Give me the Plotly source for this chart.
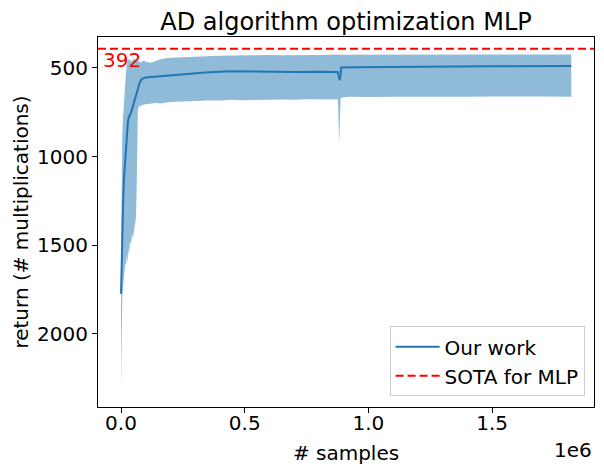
import plotly.graph_objects as go

# mean return over samples (x in millions of samples)
mean_x = [0.000, 0.001, 0.002, 0.004, 0.006, 0.009, 0.012, 0.016, 0.020, 0.024,
          0.028, 0.032, 0.038, 0.044, 0.050, 0.056, 0.062, 0.068, 0.074, 0.082,
          0.095, 0.110, 0.140, 0.180, 0.224, 0.280, 0.340, 0.440, 0.520, 0.600,
          0.700, 0.800, 0.860, 0.876, 0.880, 0.884, 0.887, 0.890, 0.950, 1.050,
          1.200, 1.350, 1.500, 1.650, 1.820]
mean_y = [1775, 1700, 1600, 1450, 1330, 1230, 1120, 1030, 930, 860,
          800, 775, 760, 735, 705, 680, 640, 610, 590, 565,
          555, 552, 548, 543, 538, 531, 525, 519, 521, 520,
          522, 521, 521, 523, 548, 568, 550, 497, 496, 494,
          492, 491, 490, 489, 489]

# spread band around the mean
band_x = [0.000, 0.001, 0.002, 0.003, 0.005, 0.008, 0.011, 0.014, 0.017, 0.020,
          0.023, 0.026, 0.029, 0.032, 0.036, 0.040, 0.044, 0.048, 0.052, 0.056,
          0.060, 0.063, 0.065, 0.068, 0.072, 0.080, 0.090, 0.100, 0.120, 0.140,
          0.160, 0.180, 0.200, 0.250, 0.300, 0.350, 0.400, 0.450, 0.500, 0.550,
          0.600, 0.650, 0.700, 0.750, 0.800, 0.850, 0.877, 0.879, 0.882, 0.885,
          0.888, 0.920, 1.000, 1.100, 1.200, 1.300, 1.400, 1.500, 1.600, 1.700,
          1.820]
band_top = [1560, 1300, 1150, 1000, 880, 780, 700, 640, 580, 530,
            480, 455, 448, 460, 445, 470, 450, 460, 440, 455,
            450, 462, 458, 455, 462, 470, 458, 465, 470, 460,
            450, 445, 442, 440, 436, 433, 431, 430, 428, 430,
            427, 428, 426, 427, 426, 425, 425, 426, 425, 426,
            424, 424, 424, 424, 424, 424, 424, 424, 424, 424,
            424]
band_bottom = [2320, 2200, 2000, 1880, 1790, 1740, 1700, 1660, 1600, 1620,
               1560, 1600, 1520, 1560, 1480, 1500, 1440, 1460, 1420, 1380,
               1350, 1200, 900, 740, 718, 712, 708, 705, 702, 698,
               700, 695, 692, 690, 686, 684, 683, 680, 682, 679,
               680, 678, 680, 677, 679, 678, 678, 790, 930, 780,
               668, 662, 664, 662, 663, 661, 662, 661, 663, 661,
               662]

sota = 392
x_range = [-0.0931, 1.912]
y_range = [2415, 325]

font = "DejaVu Sans"

fig = go.Figure()
fig.add_trace(go.Scatter(x=band_x, y=band_bottom, mode="lines",
                         line=dict(width=0), showlegend=False, hoverinfo="skip"))
fig.add_trace(go.Scatter(x=band_x, y=band_top, mode="lines", fill="tonexty",
                         fillcolor="rgba(31,119,180,0.5)", line=dict(width=0),
                         showlegend=False, hoverinfo="skip"))
fig.add_trace(go.Scatter(x=mean_x, y=mean_y, mode="lines", name="Our work",
                         line=dict(color="#1f77b4", width=2)))
fig.add_trace(go.Scatter(x=x_range, y=[sota, sota], mode="lines", name="SOTA for MLP",
                         line=dict(color="red", width=2, dash="8px,4px")))

fig.add_annotation(x=-0.079, y=sota, text=str(sota), showarrow=False, yshift=3,
                   xanchor="left", yanchor="top", font=dict(color="red", size=20))
fig.add_annotation(x=1, y=-0.117, xref="paper", yref="paper", text="1e6",
                   showarrow=False, xanchor="right", yanchor="middle",
                   font=dict(size=20, color="black"))

axis_style = dict(showline=True, mirror=True, linecolor="black", linewidth=1,
                  ticks="outside", ticklen=5, tickwidth=1, tickcolor="black",
                  showgrid=False, zeroline=False, automargin=False,
                  tickfont=dict(size=20, color="black"))

fig.update_xaxes(range=x_range, dtick=0.5, tick0=0, tickformat=".1f",
                 ticklabelstandoff=-7,
                 title=dict(text="# samples", font=dict(size=20, color="black"), standoff=11),
                 **axis_style)
fig.update_yaxes(range=y_range, dtick=500, tick0=0,
                 title=dict(text="return (# multiplications)", font=dict(size=20, color="black"),
                            standoff=3),
                 **axis_style)

fig.update_layout(
    width=604, height=472,
    margin=dict(l=98, r=10, t=37, b=65),
    paper_bgcolor="white", plot_bgcolor="white",
    font=dict(family=font, size=20, color="black"),
    title=dict(text="AD algorithm optimization MLP", x=0.5, xref="paper",
               y=1 - 21.7 / 472, yref="container", yanchor="middle",
               font=dict(size=24, color="black")),
    legend=dict(x=0.981, y=0.029, xanchor="right", yanchor="bottom",
                traceorder="normal", itemwidth=44,
                bgcolor="white", bordercolor="#cccccc", borderwidth=1,
                font=dict(size=20, color="black")),
)

# drop the page's default body margin so the figure sits at the window corner
fig.write_html("out.html", config={"displayModeBar": False},
               post_script="document.body.style.margin='0';")
